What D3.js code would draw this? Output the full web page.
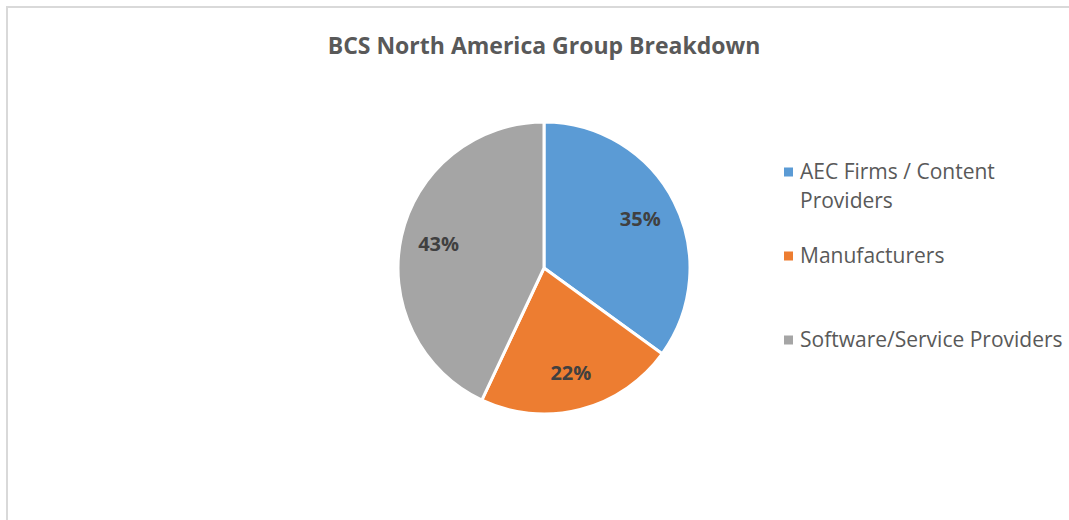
<!DOCTYPE html>
<html>
<head>
<meta charset="utf-8">
<script src="https://cdn.jsdelivr.net/npm/d3@7"></script>
<style>
  html, body { margin: 0; padding: 0; background: #fff; }
  svg { display: block; }
</style>
</head>
<body>
<svg id="chart" width="1069" height="520"></svg>
<script>
const title = "BCS North America Group Breakdown";
const categories = ["AEC Firms / Content Providers", "Manufacturers", "Software/Service Providers"];
const legendLines = [["AEC Firms / Content", "Providers"], ["Manufacturers"], ["Software/Service Providers"]];
const values = [35, 22, 43];
const colors = ["#5b9bd5", "#ed7d31", "#a5a5a5"];

const W = 1069, H = 520;
const svg = d3.select("#chart");
const font = "'Open Sans', 'Noto Sans', sans-serif";

// frame
svg.append("rect").attr("x", 7).attr("y", 7).attr("width", W + 10).attr("height", H + 10)
  .attr("fill", "none").attr("stroke", "#d9d9d9").attr("stroke-width", 2);

svg.append("text").attr("x", 544).attr("y", 54).attr("text-anchor", "middle")
  .attr("font-family", font).attr("font-weight", "bold").attr("font-size", 23)
  .attr("fill", "#595959").text(title);

const cx = 544, cy = 268, R = 146;
const pie = d3.pie().sort(null).value(d => d)(values);
const arc = d3.arc().innerRadius(0).outerRadius(R);
const labelArc = d3.arc().innerRadius(108).outerRadius(108);
const totals = d3.sum(values);

const g = svg.append("g").attr("transform", `translate(${cx},${cy})`);
g.selectAll("path").data(pie).join("path")
  .attr("d", arc).attr("fill", (d, i) => colors[i])
  .attr("stroke", "#fff").attr("stroke-width", 3).attr("stroke-linejoin", "round");

g.selectAll("text.lbl").data(pie).join("text").attr("class", "lbl")
  .attr("transform", d => `translate(${labelArc.centroid(d)})`)
  .attr("text-anchor", "middle").attr("dy", "0.35em")
  .attr("font-family", font).attr("font-weight", "bold").attr("font-size", 20)
  .attr("fill", "#404040")
  .text(d => Math.round(d.data / totals * 100) + "%");

// legend
const legendY = [172, 256, 340];
const lg = svg.append("g");
legendLines.forEach((lines, i) => {
  lg.append("rect").attr("x", 784).attr("y", legendY[i] - 4.5).attr("width", 9).attr("height", 9)
    .attr("fill", colors[i]);
  lines.forEach((t, j) => {
    lg.append("text").attr("x", 800).attr("y", legendY[i] + 7 + j * 29)
      .attr("font-family", font).attr("font-size", 21).attr("fill", "#595959").text(t);
  });
});
</script>
</body>
</html>
